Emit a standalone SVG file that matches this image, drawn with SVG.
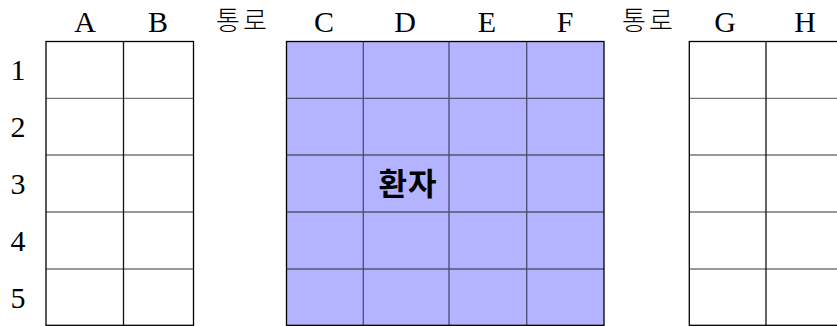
<svg xmlns="http://www.w3.org/2000/svg" width="837" height="326" viewBox="0 0 837 326">
<style>
.lbl{font-family:"Liberation Serif","DejaVu Serif",serif;font-size:30px;fill:#000;text-anchor:middle}
.kor{font-family:"Noto Sans CJK KR",sans-serif;font-size:26px;font-weight:300;fill:#000;text-anchor:middle;letter-spacing:3px}
.bold{font-family:"Noto Sans CJK KR",sans-serif;font-size:31px;font-weight:700;fill:#000;text-anchor:middle;letter-spacing:1px}
.out{fill:none;stroke:#000;stroke-width:1.3}
.h{stroke:#777;stroke-width:1.3}
.v{stroke:#111;stroke-width:1.3}
.hm{stroke:#555570;stroke-width:1.3}
.vm{stroke:#4a4a70;stroke-width:1.3}
</style>
<g id="labels">
<text class="lbl" x="85" y="31.5">A</text>
<text class="lbl" x="158" y="31.5">B</text>
<text class="kor" x="243" y="30">통로</text>
<text class="lbl" x="324" y="31.5">C</text>
<text class="lbl" x="405" y="31.5">D</text>
<text class="lbl" x="487" y="31.5">E</text>
<text class="lbl" x="565" y="31.5">F</text>
<text class="kor" x="649" y="30">통로</text>
<text class="lbl" x="725" y="31.5">G</text>
<text class="lbl" x="805" y="31.5">H</text>
<text class="lbl" x="18" y="80">1</text>
<text class="lbl" x="18" y="137">2</text>
<text class="lbl" x="18" y="194">3</text>
<text class="lbl" x="18" y="251">4</text>
<text class="lbl" x="18" y="308">5</text>
</g>
<g id="left-block">
<line class="h" x1="46" y1="98.3" x2="193.5" y2="98.3"/>
<line class="h" x1="46" y1="155" x2="193.5" y2="155"/>
<line class="h" x1="46" y1="212" x2="193.5" y2="212"/>
<line class="h" x1="46" y1="269" x2="193.5" y2="269"/>
<line class="v" x1="123.5" y1="41.5" x2="123.5" y2="325.3"/>
<rect class="out" x="46" y="41.5" width="147.5" height="283.8"/>
</g>
<g id="patient-block">
<rect x="286.5" y="41.5" width="317.5" height="283.8" fill="#b3b3ff"/>
<line class="hm" x1="286.5" y1="98.3" x2="604" y2="98.3"/>
<line class="hm" x1="286.5" y1="155" x2="604" y2="155"/>
<line class="hm" x1="286.5" y1="212" x2="604" y2="212"/>
<line class="hm" x1="286.5" y1="269" x2="604" y2="269"/>
<line class="vm" x1="363.3" y1="41.5" x2="363.3" y2="325.3"/>
<line class="vm" x1="449" y1="41.5" x2="449" y2="325.3"/>
<line class="vm" x1="526.7" y1="41.5" x2="526.7" y2="325.3"/>
<rect class="out" x="286.5" y="41.5" width="317.5" height="283.8"/>
<text class="bold" x="408" y="195">환자</text>
</g>
<g id="right-block">
<line class="h" x1="689.3" y1="98.3" x2="840" y2="98.3"/>
<line class="h" x1="689.3" y1="155" x2="840" y2="155"/>
<line class="h" x1="689.3" y1="212" x2="840" y2="212"/>
<line class="h" x1="689.3" y1="269" x2="840" y2="269"/>
<line class="v" x1="766" y1="41.5" x2="766" y2="325.3"/>
<rect class="out" x="689.3" y="41.5" width="160" height="283.8"/>
</g>
</svg>
